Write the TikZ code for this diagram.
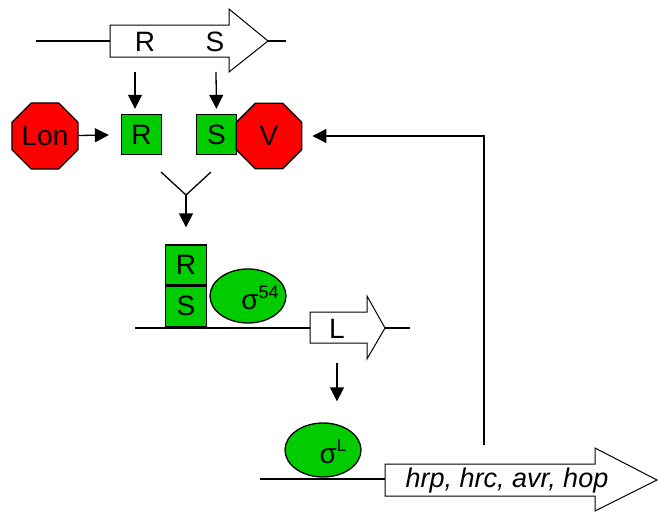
\documentclass[tikz,border=0pt]{standalone}
\usepackage{fontspec}
\setmainfont{Liberation Sans}
\usetikzlibrary{arrows.meta,shapes.geometric}
\definecolor{protgreen}{RGB}{0,204,0}

\begin{document}
\begin{tikzpicture}[x=1pt,y=-1pt,>={Triangle[length=14pt,width=14pt]},line width=1.3pt,
 every node/.style={font=\fontsize{28}{32}\selectfont},
 prot/.style={draw,fill=protgreen,minimum size=40pt,inner sep=0pt},
 stopsign/.style={draw,fill=red,regular polygon,regular polygon sides=8,minimum size=71pt,inner sep=0pt},
 sigma/.style={draw,fill=protgreen,ellipse,minimum width=76pt,minimum height=54pt,inner sep=0pt},
 gene/.style={draw,fill=white,line width=1pt}]
\useasboundingbox (0,0) rectangle (658,514);
% hrpRS operon
\draw (36,41) -- (110,41);
\draw (268,41) -- (286,41);
\draw[gene] (110,25) -- (229,25) -- (229,9) -- (268,41) -- (229,72) -- (229,57) -- (110,57) -- cycle;
\node (rgene) at (145,42) {R};
\node (sgene) at (215,42) {S};
\coordinate (rout) at (135,72);
\coordinate (sout) at (216,72);
% proteins
\node[prot] (hrpr) at (141.5,134.5) {R};
\node[prot] (hrps) at (216.5,134.5) {S};
\node[stopsign] (lon) at (45,136) {Lon};
\node[stopsign] (hrpv) at (269,136) {V};
\draw[->,shorten >=5pt] (rout) -- (rout |- hrpr.north);
\draw[->,shorten >=5pt] (sout) -- (hrps.north);
\draw[->,shorten >=12pt] (lon) -- (hrpr);
% complex
\coordinate (ra) at (161,172);
\coordinate (sa) at (211,172);
\coordinate (join) at (186,195);
\draw (ra) -- (join) -- (sa);
\node[prot,minimum width=41pt] (cr) at (186,265) {R};
\node[prot,minimum width=41pt,anchor=north] (cs) at (cr.south) {S};
\draw[->,shorten >=17pt] (join) -- (cr.north);
\node[sigma] (s54) at (248,296) {};
\node at ([xshift=12pt,yshift=-2pt]s54.center) {σ\raisebox{11pt}{\fontsize{18}{18}\selectfont 54}};
% hrpL
\draw (135,328) -- (310,328);
\draw (385,328) -- (410,328);
\draw[gene] (310,312) -- (367,312) -- (367,296) -- (385,328) -- (367,359) -- (367,343) -- (310,343) -- cycle;
\node (lgene) at (337,329) {L};
\coordinate (lout) at (337,363);
\node[sigma] (sl) at (323,450) {};
\node at ([xshift=10pt,yshift=-2pt]sl.center) {σ\raisebox{12pt}{\fontsize{17}{17}\selectfont L}};
\draw[->,shorten >=21pt] (lout) -- (lout |- sl.north);
% target genes
\draw (260,479) -- (385,479);
\draw[gene] (385,464) -- (595,464) -- (595,448) -- (657,480) -- (595,511) -- (595,496) -- (385,496) -- cycle;
\node[anchor=base,font=\fontsize{27}{30}\selectfont\itshape] (targets) at (507,487) {hrp, hrc, avr, hop};
\coordinate (fb) at (484,445);
\draw[->,shorten >=10pt] (fb) |- (hrpv);
\end{tikzpicture}
\end{document}
